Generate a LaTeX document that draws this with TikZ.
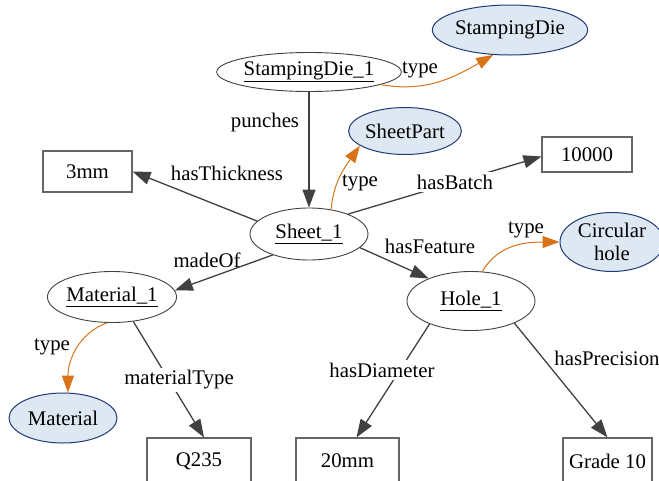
\documentclass[tikz,border=0pt]{standalone}
\usepackage{fontspec}
\setmainfont{Liberation Serif}
\usetikzlibrary{arrows.meta, shapes.geometric}
\definecolor{edgegray}{HTML}{404040}
\definecolor{typeorange}{HTML}{D97319}
\definecolor{classfill}{HTML}{DEE8F2}
\definecolor{classline}{HTML}{1F3A78}
\tikzset{every node/.style={align=center, font=\fontsize{20.8}{23}\selectfont}}
\tikzset{inst/.style={ellipse, draw=edgegray, line width=0.9pt, inner sep=0pt}}
\tikzset{cls/.style={ellipse, draw=classline, fill=classfill, line width=1pt, inner sep=0pt}}
\tikzset{val/.style={rectangle, draw=black!60, line width=1.1pt, inner sep=0pt}}
\tikzset{rel/.style={draw=edgegray, line width=1.3pt, -{Triangle[length=18pt,width=13pt]}}}
\tikzset{typ/.style={draw=typeorange, line width=1pt, -{Triangle[length=17pt,width=12pt]}}}
\tikzset{lbl/.style={inner sep=1pt}}
\tikzset{lblw/.style={lbl, fill=white, inner sep=3pt}}

\begin{document}
\begin{tikzpicture}[x=1pt, y=-1pt]

		\useasboundingbox (0,0) rectangle (659,480);

		% Instances
		\node[inst, minimum width=147pt, minimum height=39pt] (sd1) at (309,72) {\underline{StampingDie\_1}};
		\node[inst, minimum width=118pt, minimum height=52pt] (sheet) at (309,234) {\underline{Sheet\_1}};
		\node[inst, minimum width=107pt, minimum height=51pt] (mat1) at (112,297) {\underline{Material\_1}};
		\node[inst, minimum width=128pt, minimum height=59pt] (hole) at (471,301) {\underline{Hole\_1}};

		% Classes
		\node[cls, minimum width=135pt, minimum height=50pt] (sdc) at (510,30) {StampingDie};
		\node[cls, minimum width=107pt, minimum height=47pt] (part) at (405,131) {SheetPart};
		\node[cls, minimum width=104pt, minimum height=59pt] (circ) at (612,242) {Circular\\hole};
		\node[cls, minimum width=108pt, minimum height=50pt] (matc) at (63,418) {Material};

		% Values
		\node[val, minimum width=89pt, minimum height=41pt] (mm3) at (87.5,171.5) {3mm};
		\node[val, minimum width=90pt, minimum height=35pt] (batch) at (587,154.5) {10000};
		\node[val, minimum width=104pt, minimum height=46pt] (q235) at (199,461) {Q235};
		\node[val, minimum width=103pt, minimum height=46pt] (d20) at (347.5,461) {20mm};
		\node[val, minimum width=89pt, minimum height=46pt] (grade) at (607.5,461) {Grade 10};

		% Relations
		\draw[rel] (sd1.south) -- (sheet.north);
		\draw[rel] (sheet.166) -- (mm3.east);
		\draw[rel] (sheet.27) -- ([yshift=-2pt]batch.west);
		\draw[rel] (sheet.210) -- (mat1.6);
		\draw[rel] (sheet.345) -- (hole.152);
		\draw[rel] (mat1.311) -- ([xshift=5pt]q235.north);
		\draw[rel] (hole.209) -- ([xshift=9pt]d20.north);
		\draw[rel] (hole.333) -- (grade.north);

		% Types
		\draw[typ] (sd1.-10) to[out=-10, in=210] (sdc.236);
		\draw[typ] (sheet.48) to[out=85, in=235] (part.198);
		\draw[typ] (hole.69) to[out=60, in=180] (circ.west);
		\draw[typ] (mat1.259) to[out=200, in=90] (matc.79);

		% Labels
		\node[lbl] (l-punches) at (265,122) {punches};
		\node[lbl] (l-type1) at (420,70) {type};
		\node[lbl] (l-thick) at (227,173) {hasThickness};
		\node[lbl] (l-type2) at (360,183) {type};
		\node[lblw] (l-batch) at (455,182) {hasBatch};
		\node[lbl] (l-made) at (207,260) {madeOf};
		\node[lbl] (l-feat) at (430,246) {hasFeature};
		\node[lbl] (l-type3) at (526,230) {type};
		\node[lbl] (l-type4) at (52,347) {type};
		\node[lblw] (l-mtype) at (179,380) {materialType};
		\node[lblw] (l-diam) at (382,370) {hasDiameter};
		\node[lbl] (l-prec) at (607,358) {hasPrecision};

	\end{tikzpicture}
\end{document}
